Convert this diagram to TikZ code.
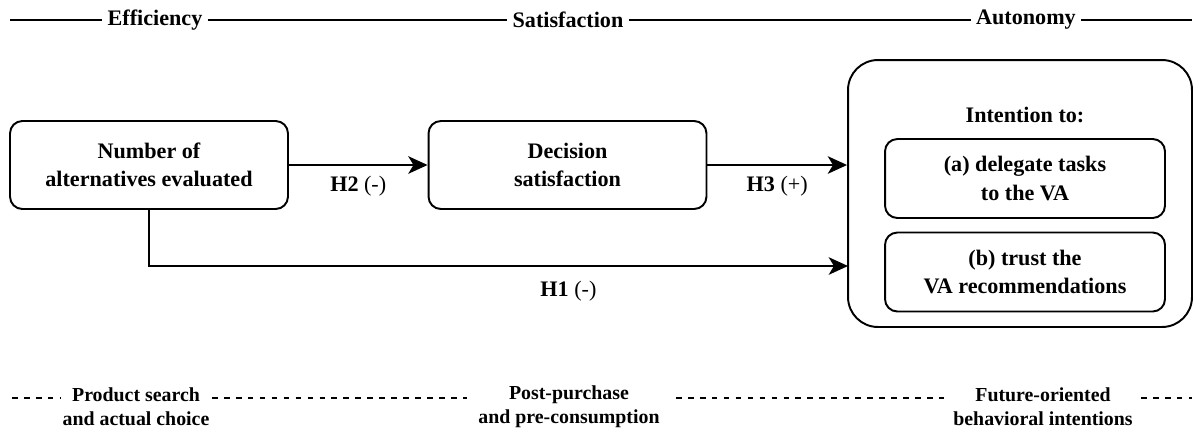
\documentclass[tikz,border=0pt]{standalone}
\usepackage{fontspec}
\setmainfont{Liberation Serif}
\usetikzlibrary{arrows.meta}
\newcommand\diagfont{\fontsize{12.6}{16}\selectfont}
\newcommand\phasefont{\fontsize{11.3}{13.6}\selectfont}
\tikzset{box/.style={draw,line width=1.1pt,rounded corners=7pt,minimum width=5.56cm,minimum height=1.76cm,align=center,font=\diagfont\bfseries,inner sep=2pt}}
\tikzset{subbox/.style={box,minimum width=5.6cm,minimum height=1.58cm}}
\tikzset{outer/.style={draw,line width=1.1pt,rounded corners=17pt,minimum width=6.88cm,minimum height=5.34cm}}
\tikzset{edge/.style={line width=1.1pt,-{Stealth[length=11pt,width=10pt,inset=3pt]}}}
\tikzset{hlabel/.style={font=\diagfont,inner sep=2pt}}
\tikzset{head/.style={font=\diagfont\bfseries,inner sep=3pt}}
\tikzset{phase/.style={font=\phasefont\bfseries,align=center,inner sep=2pt}}
\tikzset{topline/.style={line width=1.1pt}}
\tikzset{dashline/.style={line width=1.2pt,dash pattern=on 3.2pt off 3.6pt}}

\begin{document}
\begin{tikzpicture}[x=0.02cm,y=-0.02cm]
  \useasboundingbox (0,0) rectangle (1203,434);
  \coordinate (tl) at (10,20);
  \node[head] (eff) at (155,20) {Efficiency};
  \node[head] (sat) at (568,20) {Satisfaction};
  \node[head] (aut) at (1026,20) {Autonomy};
  \coordinate (tr) at (1192,20);
  \draw[topline] (tl) -- (eff) -- (sat) -- (aut) -- (tr);

  \node[box] (num) at (149,165) {Number of\\alternatives evaluated};
  \node[box] (dec) at (567.5,165) {Decision\\satisfaction};
  \node[outer] (int) at (1020,193.5) {};
  \node[head] (intt) at (1025,115) {Intention to:};
  \node[subbox] (dlg) at (1025,178.5) {(a) delegate tasks\\to the VA};
  \node[subbox] (trs) at (1025,272) {(b) trust the\\VA recommendations};
  \coordinate (h1end) at (848,266);

  \draw[edge] (num.east) -- node[hlabel,below=4pt] {\textbf{H2} (-)} (dec.west);
  \draw[edge] (dec.east) -- node[hlabel,below=4pt] {\textbf{H3} (+)} (dec.east -| int.west);
  \draw[edge] (num.south) |- node[hlabel,pos=0.8,below=6pt] {\textbf{H1} (-)} (h1end);

  \node[phase] (ps) at (136,407) {Product search\\and actual choice};
  \node[phase] (pp) at (569,407) {Post-purchase\\and pre-consumption};
  \node[phase] (fo) at (1043,407) {Future-oriented\\behavioral intentions};
  \coordinate (d1) at (12,398);
  \coordinate (d2) at (60,398);
  \coordinate (d3) at (212,398);
  \coordinate (d4) at (467,398);
  \coordinate (d5) at (676,398);
  \coordinate (d6) at (946,398);
  \coordinate (d7) at (1141,398);
  \coordinate (d8) at (1192,398);
  \draw[dashline] (d1) -- (d2);
  \draw[dashline] (d3) -- (d4);
  \draw[dashline] (d5) -- (d6);
  \draw[dashline] (d7) -- (d8);
\end{tikzpicture}
\end{document}
